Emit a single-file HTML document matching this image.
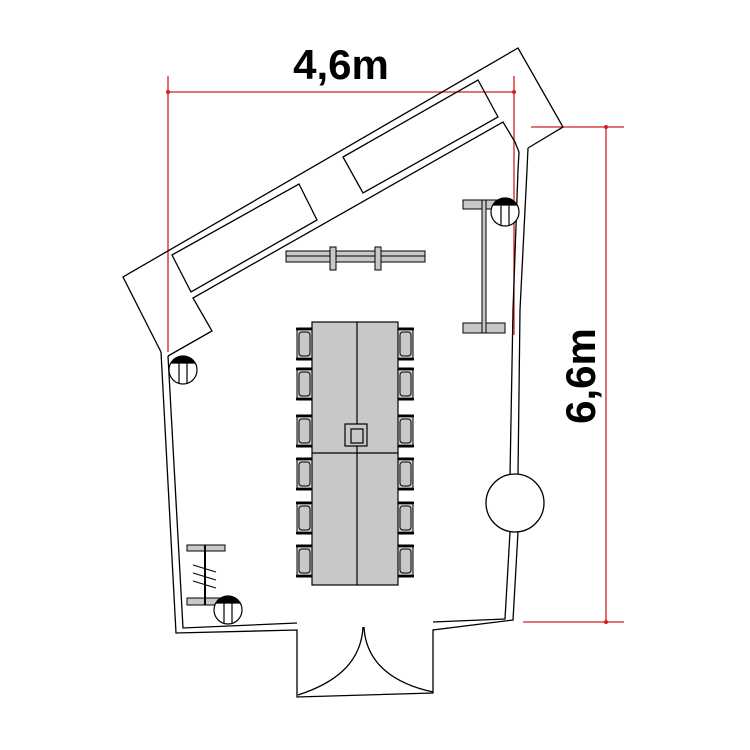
<!DOCTYPE html>
<html><head><meta charset="utf-8"><style>html,body{margin:0;padding:0;background:#fff}svg{display:block}</style></head>
<body>
<svg width="750" height="750" viewBox="0 0 750 750" xmlns="http://www.w3.org/2000/svg">
<rect width="750" height="750" fill="#fff"/>
<g fill="none" stroke="#d02020" stroke-width="1.3">
<line x1="168" y1="92" x2="514" y2="92"/>
<line x1="168" y1="76" x2="168" y2="352"/>
<line x1="514" y1="76" x2="514" y2="335"/>
<line x1="531" y1="127" x2="624" y2="127"/>
<line x1="523" y1="622" x2="624" y2="622"/>
<line x1="606" y1="127" x2="606" y2="622"/>
</g>
<g fill="#d02020"><circle cx="168" cy="92" r="2"/><circle cx="514" cy="92" r="2"/><circle cx="606" cy="127" r="2"/><circle cx="606" cy="622" r="2"/></g>
<text x="341" y="79" font-family="Liberation Sans, sans-serif" font-size="42" font-weight="bold" text-anchor="middle" fill="#000">4,6m</text>
<text transform="translate(595,376) rotate(-90)" font-family="Liberation Sans, sans-serif" font-size="42" font-weight="bold" text-anchor="middle" fill="#000">6,6m</text>
<g fill="none" stroke="#000" stroke-width="1.3">
<polyline points="161,352 123,277 518,48 563,127 528,148"/>
<polyline points="168,356 212,331 193,298 503,122 515,142 519,152"/>
<polygon points="172,255 299,184 317,220 191,292"/>
<polygon points="343,157 478,80 498,117 363,193"/>
<polyline points="161,352 176,633 297,630 297,697 433,693 433,630 513,620 518,532"/>
<polyline points="168,356 183,628 297,623"/>
<polyline points="433,622 505,619 510,532"/>
<polyline points="518,475 520,310 527,170 528,148"/>
<polyline points="510,475 513,310 518,170 519,152"/>
<circle cx="515" cy="503" r="29" fill="#fff"/>
<path d="M363,627 C361,665 332,684 298,695"/>
<path d="M364,627 C366,665 396,684 433,692"/>
</g>
<g stroke="#000" stroke-width="1.2">
<rect x="312" y="322" width="86" height="263" fill="#c8c8c8"/>
<line x1="357" y1="322" x2="357" y2="585"/>
<line x1="312" y1="453" x2="398" y2="453"/>
<rect x="345" y="424" width="22" height="22" fill="#c8c8c8"/>
<rect x="351" y="429" width="12" height="14" fill="#c8c8c8"/>
</g>
<g stroke="#000" stroke-width="1" fill="#c8c8c8">
<g id="chL"><rect x="297" y="328" width="15" height="32"/><rect x="299" y="332" width="11" height="24" rx="3"/><line x1="296" y1="329" x2="312" y2="329" stroke-width="2.5"/><line x1="296" y1="359" x2="312" y2="359" stroke-width="2.5"/></g>
<use href="#chL" y="40"/><use href="#chL" y="87"/><use href="#chL" y="130"/><use href="#chL" y="174"/><use href="#chL" y="217"/>
<g transform="translate(710,0) scale(-1,1)"><use href="#chL"/><use href="#chL" y="40"/><use href="#chL" y="87"/><use href="#chL" y="130"/><use href="#chL" y="174"/><use href="#chL" y="217"/></g>
</g>
<g stroke="#000" stroke-width="1" fill="#c8c8c8">
<rect x="286" y="251" width="139" height="11"/>
<line x1="286" y1="256" x2="425" y2="256"/>
<rect x="330" y="247" width="6" height="23"/>
<rect x="375" y="247" width="6" height="23"/>
<rect x="463" y="200" width="42" height="9"/>
<rect x="463" y="323" width="42" height="10"/>
<rect x="482" y="200" width="4" height="133"/>
<rect x="187" y="545" width="38" height="6"/>
<rect x="187" y="598" width="38" height="7"/>
<line x1="205" y1="545" x2="205" y2="605" stroke-width="2"/>
</g>
<g stroke="#000" stroke-width="1"><line x1="193" y1="565" x2="216" y2="572"/><line x1="193" y1="573" x2="216" y2="580"/><line x1="193" y1="581" x2="216" y2="588"/></g>
<g id="lt" stroke="#000" stroke-width="1.2" fill="#fff">
<circle cx="183" cy="370" r="14"/>
<path d="M171,363 A14,14 0 0 1 195,363 Z" fill="#000"/>
<line x1="179" y1="363" x2="179" y2="384"/><line x1="187" y1="363" x2="187" y2="384"/>
</g>
<use href="#lt" x="322" y="-158"/>
<use href="#lt" x="45" y="240"/>
</svg>
</body></html>
